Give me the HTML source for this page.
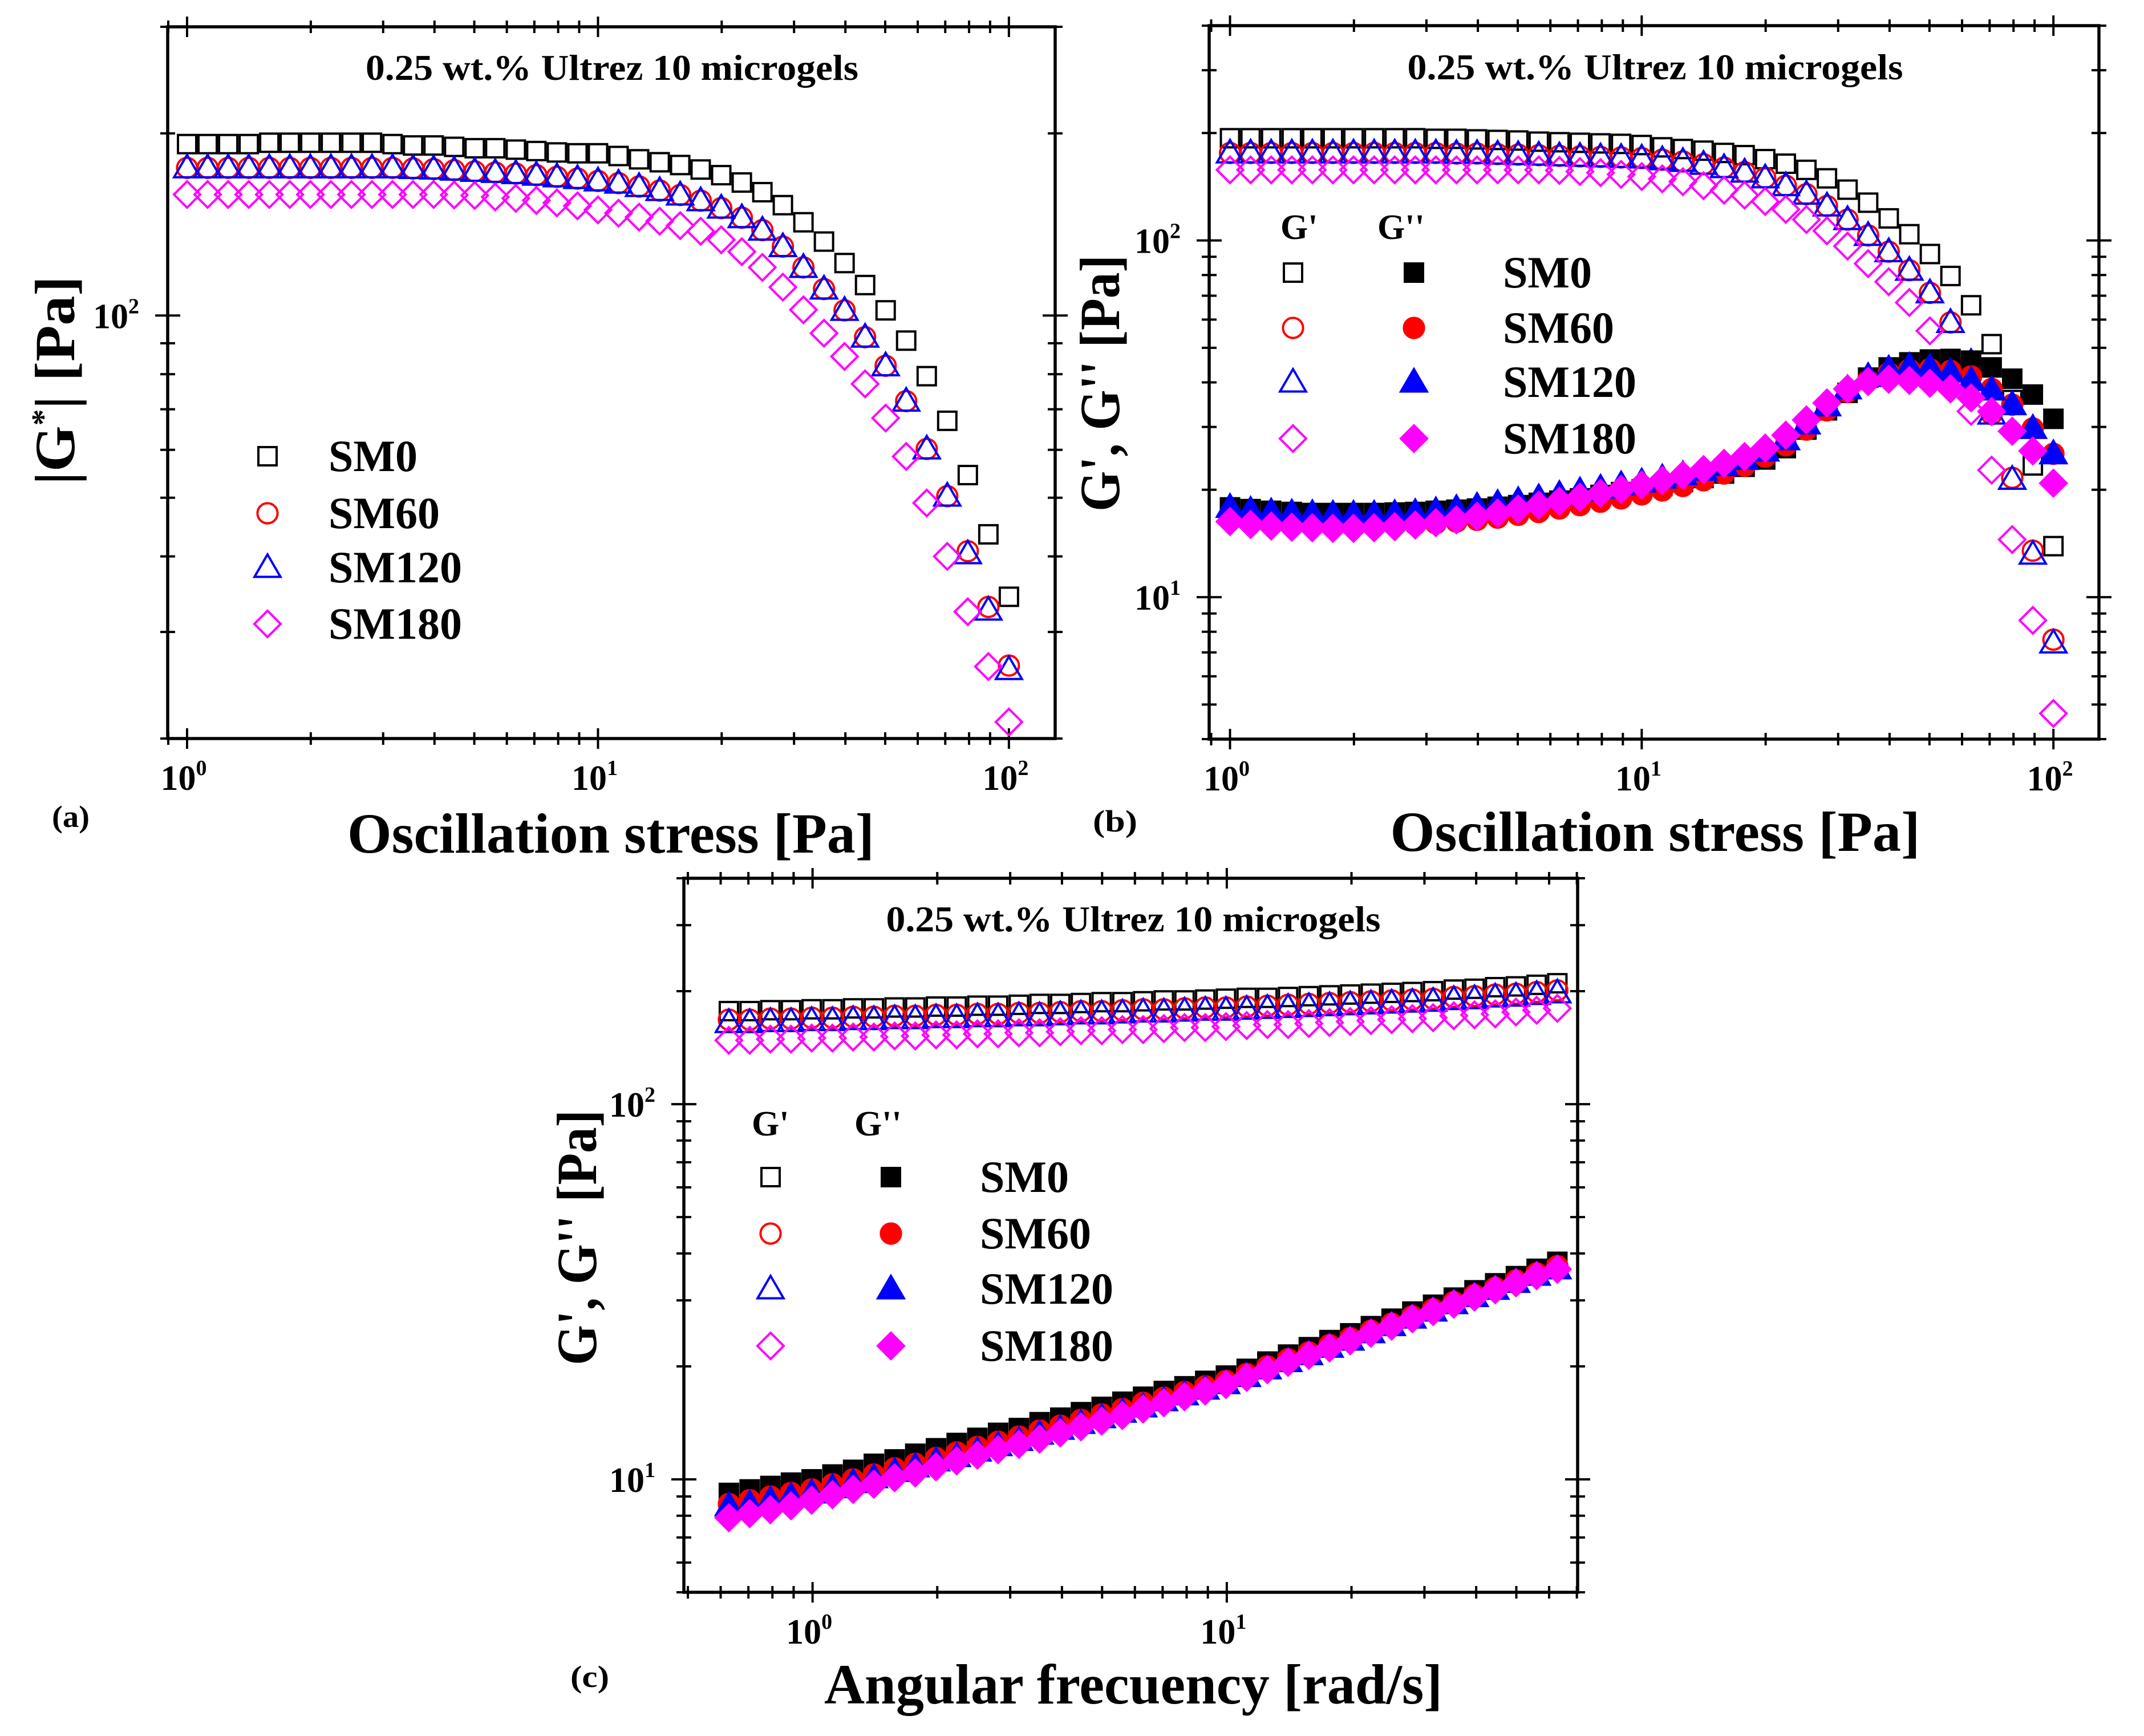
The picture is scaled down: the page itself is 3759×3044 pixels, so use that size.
<!DOCTYPE html>
<html><head><meta charset="utf-8"><title>Rheology of Ultrez 10 microgels</title>
<style>
html,body{margin:0;padding:0;background:#fff;overflow:hidden;}
svg{display:block;}
text{font-family:"Liberation Serif",serif;font-weight:bold;fill:#000;}
</style></head>
<body>
<svg id="fig" xmlns="http://www.w3.org/2000/svg" width="3759" height="3044" viewBox="0 0 3759 3044">
<rect x="0" y="0" width="3759" height="3044" fill="#fff"/>
</svg>
<script>
// ---------- data ----------
const stressX = [1,1.122,1.259,1.413,1.585,1.778,1.995,2.239,2.512,2.818,3.162,3.548,3.981,4.467,5.012,5.623,6.31,7.079,7.943,8.913,10,11.22,12.59,14.13,15.85,17.78,19.95,22.39,25.12,28.18,31.62,35.48,39.81,44.67,50.12,56.23,63.1,70.79,79.43,89.13,100];
const freqX = [0.628,0.705,0.791,0.887,0.995,1.117,1.253,1.406,1.578,1.770,1.986,2.228,2.500,2.805,3.148,3.532,3.963,4.446,4.989,5.598,6.280,7.046,7.906,8.871,9.953,11.17,12.53,14.06,15.78,17.70,19.86,22.28,25.00,28.05,31.48,35.32,39.63,44.46,49.89,55.98,62.8];

// panel (a) |G*|
const aSM0 = [192,192,192,192,193,193,193,193,193,193,192,191,191,190,189,189,188,187,186,185.4,185.4,183.5,181.2,179.2,177.3,174.3,170.6,165.9,159.9,152.2,142.6,132.5,122.1,112.3,102,90.9,79.4,67.0,54.5,43.5,34.3];
const aSM60 = [175.4,175.4,175.4,175.4,175.4,175.4,175.4,175.4,175.4,175.4,175.4,175.0,174.6,173.9,173.1,172.4,171.6,170.6,169.5,168.4,166.9,165.5,163.4,160.9,158.2,154.8,150.5,145.1,138.4,130.0,120.1,110.6,102.0,92.1,82.6,72.2,60.2,50.3,40.8,33.0,26.4];
const aSM120 = [175.4,175.4,175.4,175.4,175.4,175.4,175.4,175.4,175.4,175.4,175.4,175.0,174.6,173.9,173.1,172.4,171.6,170.6,169.5,168.4,166.9,165.5,163.4,160.9,158.2,154.8,150.5,145.1,138.4,130.0,120.1,110.6,102.0,92.1,82.6,72.2,60.2,50.3,40.4,32.6,26.0];
const aSM180 = [158.5,158.5,158.5,158.5,158.5,158.5,158.5,158.5,158.5,158.5,158.5,158.5,158.5,158.2,157.9,157.0,156.2,155.0,153.5,151.8,149.5,147.6,145.4,143.2,140.8,137.8,133.4,127.5,120.1,111.4,102.2,93.5,85.6,77.1,67.7,58.5,49.0,40.0,32.4,26.3,21.3];

// panel (b) G' and G'' vs stress
const bGp0 = [193.4,193.4,193.4,193.4,193.4,193.4,193.4,193.4,193.4,193.4,192.7,192.7,192.0,191.3,190.6,189.2,188.5,187.8,187.1,186.5,185.1,182.4,180.4,178.5,175.9,173.4,169.0,164.1,157.7,149.3,138.8,127.6,115.3,104.1,91.6,79.5,65.8,51.2,35.7,23.4,13.9];
const bGp60 = [175.9,175.9,175.9,175.9,175.9,175.9,175.9,175.9,175.9,175.9,175.9,175.3,175.3,174.6,174.0,173.4,172.7,172.1,171.5,170.9,170.2,168.4,166.5,163.5,160.0,155.4,149.8,142.4,134.8,124.9,114.4,103.3,93.0,82.5,71.3,58.9,45.5,32.6,21.6,13.5,7.6];
const bGp120 = [175.9,175.9,175.9,175.9,175.9,175.9,175.9,175.9,175.9,175.9,175.9,175.3,175.3,174.6,174.0,173.4,172.7,172.1,171.5,170.9,170.2,168.4,166.5,163.5,160.0,155.4,149.8,142.4,134.8,124.9,114.4,103.3,93.0,82.5,71.3,58.9,45.5,32.6,21.4,13.2,7.44];
const bGp180 = [157.7,157.7,157.7,157.7,157.7,157.7,157.7,157.7,157.7,157.7,157.7,157.7,157.7,157.7,157.7,157.7,157.1,156.0,154.9,153.2,151.0,148.8,146.1,142.4,138.3,133.9,128.6,122.2,114.4,106.4,96.4,86.1,76.6,67.0,55.8,45.2,33.2,22.7,14.5,8.61,4.72];
const bGpp0 = [17.85,17.65,17.46,17.33,17.21,17.21,17.21,17.21,17.27,17.33,17.46,17.59,17.72,17.92,18.11,18.38,18.65,18.92,19.34,19.70,20.06,20.50,21.03,21.58,22.21,23.20,24.32,26.17,29.50,33.40,37.39,41.25,44.06,45.52,46.36,46.53,46.03,44.06,40.96,36.98,31.62];
const bGpp60 = [16.71,16.47,16.29,16.17,16.05,15.99,15.93,15.93,15.93,15.99,16.11,16.29,16.47,16.71,17.02,17.33,17.72,18.11,18.51,18.92,19.41,19.91,20.50,21.26,22.21,23.37,24.77,26.64,29.50,33.40,37.66,40.51,42.48,43.42,43.57,43.10,41.56,38.36,34.65,29.72,25.23];
const bGpp120 = [17.85,17.52,17.33,17.21,17.15,17.08,17.08,17.08,17.15,17.27,17.46,17.72,17.98,18.31,18.65,18.99,19.41,19.84,20.20,20.65,21.03,21.58,22.05,22.70,23.37,24.32,25.69,27.63,30.60,34.39,38.36,41.56,43.57,44.38,44.06,42.79,40.51,38.08,34.65,29.72,25.23];
const bGpp180 = [16.29,15.99,15.82,15.70,15.65,15.59,15.59,15.65,15.76,15.93,16.17,16.47,16.84,17.21,17.65,18.11,18.58,19.06,19.55,20.06,20.65,21.26,21.97,22.78,23.71,24.77,26.17,28.44,31.39,35.02,38.36,40.22,40.81,40.51,39.78,38.36,36.19,33.16,29.18,25.69,20.87];

// panel (c) frequency sweep
const cGp0 = [177,177,178,178,179,179,180,180,181,181,182,182,183,183,184,185,185,186,187,187,188,189,189,190,191,192,192,193,194,195,196,197,198,199,200,202,203,205,206,208,210];
const cGp60 = [168,168,169,169,170,170,171,171,172,172,173,173,174,174,175,175,176,177,177,178,179,179,180,181,181,182,183,184,185,186,187,188,189,190,191,193,194,196,197,199,201];
const cGp120 = [165,165,166,166,167,167,168,168,169,169,170,170,171,171,172,172,173,174,174,175,176,176,177,178,178,179,180,181,182,183,184,185,186,187,188,190,191,193,194,196,198];
const cGp180 = [148,148,149,149,150,150,151,151,152,152,153,153,154,154,155,155,156,157,157,158,158,159,160,160,161,162,163,163,164,165,166,167,168,169,170,172,173,174,176,178,180];
const cGpp0 = [9.2,9.4,9.6,9.8,10.0,10.3,10.6,11.0,11.3,11.7,12.1,12.5,12.9,13.3,13.7,14.2,14.6,15.1,15.6,16.1,16.6,17.2,17.7,18.3,18.9,19.7,20.6,21.5,22.5,23.5,24.5,25.6,26.8,28.0,29.2,30.5,31.9,33.3,34.8,36.4,38.0];
const cGpp60 = [8.6,8.8,9.0,9.2,9.4,9.7,10.0,10.3,10.7,11.0,11.4,11.8,12.2,12.6,13.0,13.5,13.9,14.4,14.9,15.4,16.0,16.5,17.1,17.7,18.3,19.1,20.0,20.9,21.8,22.8,23.8,24.9,26.0,27.2,28.4,29.7,31.0,32.4,33.9,35.4,37.0];
const cGpp120 = [8.5,8.6,8.8,9.0,9.2,9.5,9.8,10.1,10.5,10.8,11.2,11.5,11.9,12.3,12.7,13.2,13.6,14.1,14.6,15.1,15.6,16.2,16.8,17.4,18.0,18.8,19.7,20.6,21.5,22.5,23.5,24.6,25.7,26.9,28.1,29.4,30.7,32.1,33.5,35.0,36.4];
const cGpp180 = [7.9,8.1,8.3,8.5,8.8,9.1,9.4,9.7,10.1,10.4,10.8,11.2,11.6,12.0,12.4,12.8,13.3,13.8,14.3,14.8,15.4,16.0,16.6,17.2,17.9,18.7,19.6,20.5,21.4,22.4,23.4,24.5,25.6,26.8,28.0,29.3,30.6,32.0,33.4,34.9,36.3];

const seriesNames = ["SM0","SM60","SM120","SM180"];
const seriesColors = ["#000000","#ff0000","#0000ff","#ff00ff"];
const seriesShapes = ["square","circle","triangle","diamond"];
const titleText = "0.25 wt.% Ultrez 10 microgels";

// ---------- drawing helpers ----------
const NS = "http://www.w3.org/2000/svg";
const svg = document.getElementById("fig");
function el(tag, attrs, parent){
  const e = document.createElementNS(NS, tag);
  for (const k in attrs) e.setAttribute(k, attrs[k]);
  (parent||svg).appendChild(e);
  return e;
}
function logScale(d0,d1,r0,r1){
  const l0=Math.log10(d0), l1=Math.log10(d1);
  return v => r0 + (Math.log10(v)-l0)/(l1-l0)*(r1-r0);
}
function marker(g, shape, x, y, color, filled, s){
  let m;
  const sw = 4;
  const fill = filled ? color : "none";
  if (shape==="square"){
    m = el("rect",{x:x-s/2,y:y-s/2,width:s,height:s,fill:fill,stroke:color,"stroke-width":sw},g);
  } else if (shape==="circle"){
    m = el("circle",{cx:x,cy:y,r:s*0.55,fill:fill,stroke:color,"stroke-width":sw},g);
  } else if (shape==="triangle"){
    const h=s*1.15;
    m = el("polygon",{points:`${x},${y-h*0.62} ${x-h*0.62},${y+h*0.45} ${x+h*0.62},${y+h*0.45}`,fill:fill,stroke:color,"stroke-width":sw},g);
  } else {
    const r=s*0.72;
    m = el("polygon",{points:`${x},${y-r} ${x+r},${y} ${x},${y+r} ${x-r},${y}`,fill:fill,stroke:color,"stroke-width":sw},g);
  }
  return m;
}
function drawAxes(p){
  const g = el("g",{});
  
  
  const L=p.L,R=p.R,T=p.T,B=p.B;
  const lx0=Math.floor(Math.log10(p.xd[0])), lx1=Math.ceil(Math.log10(p.xd[1]));
  for (let e=lx0;e<=lx1;e++){
    for (let k=1;k<10;k++){
      const v=k*Math.pow(10,e);
      if (v<p.xd[0]*0.999||v>p.xd[1]*1.001) continue;
      const x=p.sx(v), major=(k===1), len=major?18:11;
      el("line",{x1:x,y1:B-len,x2:x,y2:B+len,stroke:"#000","stroke-width":4},g);
      el("line",{x1:x,y1:T-len,x2:x,y2:T+len,stroke:"#000","stroke-width":4},g);
      if (major){
        const t=el("text",{x:x-6,y:B+90,"font-size":62,"text-anchor":"middle"},g);
        
        
        t.textContent="10";
        const s=el("tspan",{"font-size":38,dy:-26},t); s.textContent=String(e);
      }
    }
  }
  const ly0=Math.floor(Math.log10(p.yd[0])), ly1=Math.ceil(Math.log10(p.yd[1]));
  for (let e=ly0;e<=ly1;e++){
    for (let k=1;k<10;k++){
      const v=k*Math.pow(10,e);
      if (v<p.yd[0]*0.999||v>p.yd[1]*1.001) continue;
      const y=p.sy(v), major=(k===1), len=major?22:13;
      el("line",{x1:L-len,y1:y,x2:L+len,y2:y,stroke:"#000","stroke-width":4},g);
      el("line",{x1:R-len,y1:y,x2:R+len,y2:y,stroke:"#000","stroke-width":4},g);
      if (major){
        const t=el("text",{x:L-50,y:y+22,"font-size":62,"text-anchor":"end"},g);
        
        
        t.textContent="10";
        const s=el("tspan",{"font-size":38,dy:-26},t); s.textContent=String(e);
      }
    }
  }
  const fr=el("rect",{x:L,y:T,width:R-L,height:B-T,fill:"none",stroke:"#000","stroke-width":5.5},g);
  
  
}
function text(str,x,y,size,len,name,anchor,rot){
  const a={x:x,y:y,"font-size":size};
  if (len) { a.textLength=len; a.lengthAdjust="spacingAndGlyphs"; }
  if (anchor) a["text-anchor"]=anchor;
  if (rot) a.transform=rot;
  const t=el("text",a);
  
  
  t.textContent=str;
  return t;
}
function drawSeries(p, xs, ys, idx, filled, s, name){
  const g=el("g",{});
  
  
  for (let i=0;i<xs.length;i++){
    const m=marker(g, seriesShapes[idx], p.sx(xs[i]), p.sy(ys[i]), seriesColors[idx], filled, s);
    
    
  }
}
const MS = 32;

// ---------- panel (a) ----------
const pa={id:"panel-a",L:294,R:1850,T:47,B:1295,xd:[0.897,129.6],yd:[20,300]};
pa.sx=logScale(pa.xd[0],pa.xd[1],pa.L,pa.R); pa.sy=logScale(pa.yd[0],pa.yd[1],pa.B,pa.T);
drawAxes(pa);
text(titleText,1073,140,64,864,"panel-a-title","middle");
text("Oscillation stress [Pa]",1071,1495,100,924,"panel-a-x-axis-title","middle");
text("(a)",91,1450,54,66,"panel-a-label");
{
  const t=el("text",{x:0,y:0,"font-size":100,"text-anchor":"middle",transform:"translate(130,667) rotate(-90)",textLength:366,lengthAdjust:"spacingAndGlyphs"});
  
  
  t.textContent="|G";
  const s=el("tspan",{"font-size":56,dy:-36},t); s.textContent="*";
  const s2=el("tspan",{dy:36},t); s2.textContent="| [Pa]";
}
const aSeries=[aSM0,aSM60,aSM120,aSM180];
aSeries.forEach((d,i)=>drawSeries(pa,stressX,d,i,false,MS,"panel-a-"+seriesNames[i].toLowerCase()));
const aLegY=[800,900,995,1094];
seriesNames.forEach((n,i)=>{
  const m=marker(svg,seriesShapes[i],469,aLegY[i],seriesColors[i],false,MS);
  
  
  text(n,576,aLegY[i]+26,78,null,"panel-a-legend-entry");
});

// ---------- panel (b) ----------
const pb={id:"panel-b",L:2120,R:3680,T:45,B:1296,xd:[0.89,129],yd:[4,400]};
pb.sx=logScale(pb.xd[0],pb.xd[1],pb.L,pb.R); pb.sy=logScale(pb.yd[0],pb.yd[1],pb.B,pb.T);
drawAxes(pb);
text(titleText,2902,139,64,869,"panel-b-title","middle");
text("Oscillation stress [Pa]",2902,1492,100,929,"panel-b-x-axis-title","middle");
text("(b)",1916,1458,54,78,"panel-b-label");
text("G', G'' [Pa]",0,0,100,450,"panel-b-y-axis-title","middle","translate(1962,672) rotate(-90)");
const bGp=[bGp0,bGp60,bGp120,bGp180], bGpp=[bGpp0,bGpp60,bGpp120,bGpp180];
bGp.forEach((d,i)=>drawSeries(pb,stressX,d,i,false,MS,"panel-b-gprime-"+seriesNames[i].toLowerCase()));
bGpp.forEach((d,i)=>drawSeries(pb,stressX,d,i,true,MS,"panel-b-gdoubleprime-"+seriesNames[i].toLowerCase()));
text("G'",2245,419,62,null,"panel-b-legend-header-gprime");
text("G''",2415,419,62,null,"panel-b-legend-header-gdoubleprime");
const bLegY=[478,575,670,769];
seriesNames.forEach((n,i)=>{
  let m=marker(svg,seriesShapes[i],2267,bLegY[i],seriesColors[i],false,MS);
  
  
  m=marker(svg,seriesShapes[i],2479,bLegY[i],seriesColors[i],true,MS);
  
  
  text(n,2635,bLegY[i]+26,78,null,"panel-b-legend-entry");
});

// ---------- panel (c) ----------
const pc={id:"panel-c",L:1199,R:2766,T:1540,B:2792,xd:[0.489,70.3],yd:[5,400]};
pc.sx=logScale(pc.xd[0],pc.xd[1],pc.L,pc.R); pc.sy=logScale(pc.yd[0],pc.yd[1],pc.B,pc.T);
drawAxes(pc);
text(titleText,1987,1633,64,867,"panel-c-title","middle");
text("Angular frecuency [rad/s]",1987,2987,100,1084,"panel-c-x-axis-title","middle");
text("(c)",1000,2958,54,68,"panel-c-label");
text("G', G'' [Pa]",0,0,100,448,"panel-c-y-axis-title","middle","translate(1045,2170) rotate(-90)");
const cGp=[cGp0,cGp60,cGp120,cGp180], cGpp=[cGpp0,cGpp60,cGpp120,cGpp180];
cGp.forEach((d,i)=>drawSeries(pc,freqX,d,i,false,MS,"panel-c-gprime-"+seriesNames[i].toLowerCase()));
cGpp.forEach((d,i)=>drawSeries(pc,freqX,d,i,true,MS,"panel-c-gdoubleprime-"+seriesNames[i].toLowerCase()));
text("G'",1318,1991,62,null,"panel-c-legend-header-gprime");
text("G''",1498,1991,62,null,"panel-c-legend-header-gdoubleprime");
const cLegY=[2064,2163,2260,2360];
seriesNames.forEach((n,i)=>{
  let m=marker(svg,seriesShapes[i],1351,cLegY[i],seriesColors[i],false,MS);
  
  
  m=marker(svg,seriesShapes[i],1562,cLegY[i],seriesColors[i],true,MS);
  
  
  text(n,1718,cLegY[i]+26,78,null,"panel-c-legend-entry");
});
</script>
</body></html>
